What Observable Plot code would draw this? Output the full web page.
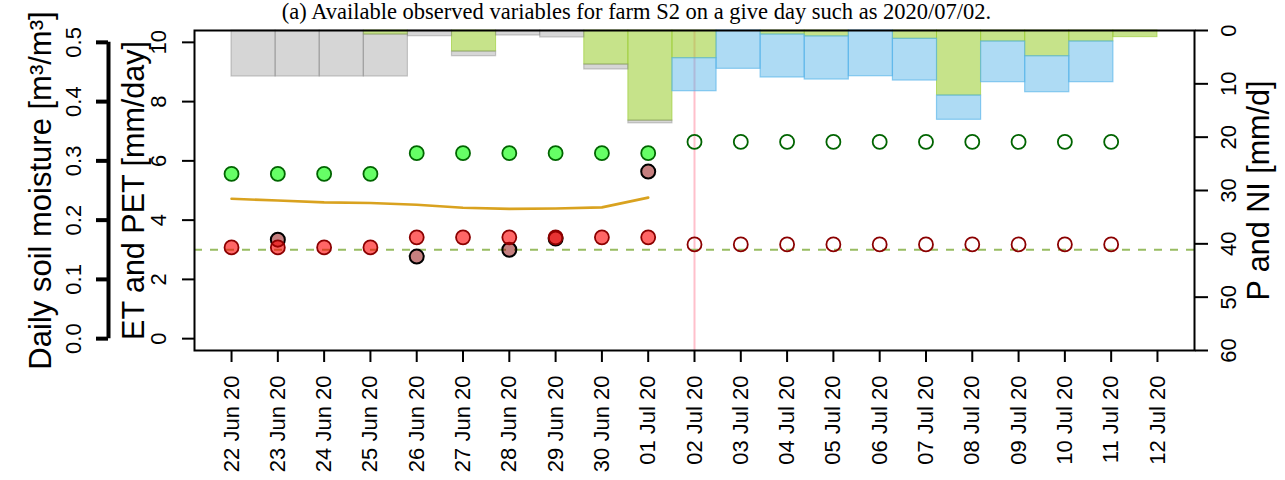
<!DOCTYPE html>
<html><head><meta charset="utf-8">
<script src="https://cdn.jsdelivr.net/npm/d3@7"></script>
<script src="https://cdn.jsdelivr.net/npm/@observablehq/plot@0.6"></script>
<style>body{margin:0;background:#fff;}</style>
</head><body><div id="chart"></div>
<script>
// ---- data ----
const dates = ["2020-06-22","2020-06-23","2020-06-24","2020-06-25","2020-06-26","2020-06-27","2020-06-28",
  "2020-06-29","2020-06-30","2020-07-01","2020-07-02","2020-07-03","2020-07-04","2020-07-05","2020-07-06",
  "2020-07-07","2020-07-08","2020-07-09","2020-07-10","2020-07-11","2020-07-12"];
const todayIndex = 10;
// soil moisture (m3/m3)
const smUpperObs = [0.278,0.278,0.278,0.278,0.313,0.313,0.313,0.313,0.313,0.313];      // days 0-9 (green filled)
const smLowerObs = [0.154,0.154,0.154,0.154,0.171,0.171,0.171,0.171,0.171,0.171];      // days 0-9 (red filled)
const smUpperFc  = [0.332,0.332,0.332,0.332,0.332,0.332,0.332,0.332,0.332,0.332];      // days 10-19 (green open)
const smLowerFc  = [0.159,0.159,0.159,0.159,0.159,0.159,0.159,0.159,0.159,0.159];      // days 10-19 (red open)
const smMeasuredDay = [1, 4, 6, 7, 9];
const smMeasured    = [0.167, 0.1385, 0.150, 0.169, 0.282];
const smThreshold = 0.15;
// ET / PET (mm/day), days 0-9
const pet = [4.72,4.66,4.60,4.58,4.52,4.42,4.38,4.39,4.43,4.76];
// P and NI (mm/d), stacked from the top: NI (green), observed (grey), P (blue)
const niBar   = [0,0,0,0.75,0,3.94,0,0,6.38,16.9,5.19,0,0.75,1.1,0,1.56,12.19,2.06,4.82,2.06,1.25];
const greyBar = [8.63,8.63,8.63,7.88,1.07,0.88,0.94,1.31,0.93,0.5,0,0,0,0,0,0,0,0,0,0,0];
const pBar    = [0,0,0,0,0,0,0,0,0,0,6.19,7.18,8.06,8.09,8.57,7.82,4.55,7.63,6.75,7.63,0];
const etTicks = [0,2,4,6,8,10];
const smTicks = [0,0.1,0.2,0.3,0.4,0.5];
const pTicks  = [0,10,20,30,40,50,60];

// ---- scales helpers ----
const DAY = 864e5;
const D = dates.map(s => new Date(s));
const yDomain = [-0.4, 10.4];
const smToY = s => s * 20;                 // SM axis is ET axis / 20
const yToSm = y => y / 20;
const pSpan = (yDomain[1] - yDomain[0]) / 60;  // right axis 0..60 covers the whole frame, reversed
const pToY = p => yDomain[1] - p * pSpan;
const yToP = y => (yDomain[1] - y) / pSpan;
const nb = dates.length;
const barEdge = k => new Date(D[0].getTime() + k * ((nb - 1) / nb) * DAY);

const rects = [];
for (let k = 0; k < nb; k++) {
  let c = 0;
  [["ni", niBar[k]], ["grey", greyBar[k]], ["p", pBar[k]]].forEach(([s, v]) => {
    if (v > 0) { rects.push({s, x1: barEdge(k), x2: barEdge(k + 1), y1: pToY(c), y2: pToY(c + v)}); c += v; }
  });
}
const upperObs = smUpperObs.map((v, i) => ({x: D[i], y: smToY(v)}));
const lowerObs = smLowerObs.map((v, i) => ({x: D[i], y: smToY(v)}));
const upperFc = smUpperFc.map((v, i) => ({x: D[todayIndex + i], y: smToY(v)}));
const lowerFc = smLowerFc.map((v, i) => ({x: D[todayIndex + i], y: smToY(v)}));
const measured = smMeasured.map((v, i) => ({x: D[smMeasuredDay[i]], y: smToY(v)}));
const petData = pet.map((v, i) => ({x: D[i], y: v}));

const plot = Plot.plot({
  width: 1285, height: 480,
  marginLeft: 194, marginRight: 91, marginTop: 30, marginBottom: 130,
  style: {fontFamily: "Liberation Sans, Arial, Helvetica, sans-serif", fontSize: "22px", background: "#fff"},
  x: {type: "utc", domain: [new Date(D[0].getTime() - 0.8 * DAY), new Date(D[nb - 1].getTime() + 0.8 * DAY)]},
  y: {domain: yDomain},
  marks: [
    Plot.ruleX([D[todayIndex]], {stroke: "pink", strokeWidth: 2}),
    Plot.rect(rects.filter(d => d.s === "ni"), {x1: "x1", x2: "x2", y1: "y1", y2: "y2", fill: "#9acd32", fillOpacity: 0.57, stroke: "#9acd32", strokeOpacity: 0.65, strokeWidth: 1}),
    Plot.rect(rects.filter(d => d.s === "grey"), {x1: "x1", x2: "x2", y1: "y1", y2: "y2", fill: "#808080", fillOpacity: 0.32, stroke: "#808080", strokeOpacity: 0.4, strokeWidth: 1.2}),
    Plot.rect(rects.filter(d => d.s === "p"), {x1: "x1", x2: "x2", y1: "y1", y2: "y2", fill: "#56b4e9", fillOpacity: 0.48, stroke: "#56b4e9", strokeOpacity: 0.65, strokeWidth: 1.2}),
    Plot.ruleY([smToY(smThreshold)], {stroke: "#98bc62", strokeWidth: 1.8, strokeDasharray: "8,8"}),
    Plot.line(petData, {x: "x", y: "y", stroke: "#d9a21f", strokeWidth: 2.6}),
    Plot.dot(measured, {x: "x", y: "y", r: 7, fill: "darkred", fillOpacity: 0.5, stroke: "black", strokeWidth: 2}),
    Plot.dot(lowerObs, {x: "x", y: "y", r: 7, fill: "red", fillOpacity: 0.6, stroke: "darkred", strokeWidth: 1.8}),
    Plot.dot(upperObs, {x: "x", y: "y", r: 7, fill: "lime", fillOpacity: 0.6, stroke: "darkgreen", strokeWidth: 1.8}),
    Plot.dot(lowerFc, {x: "x", y: "y", r: 7, fill: "none", stroke: "darkred", strokeWidth: 1.8}),
    Plot.dot(upperFc, {x: "x", y: "y", r: 7, fill: "none", stroke: "darkgreen", strokeWidth: 1.8}),
    Plot.frame({stroke: "black", strokeWidth: 2}),
    Plot.axisX({ticks: D, tickFormat: d3.utcFormat("%d %b %y"), tickSize: 12, tickPadding: 13, tickRotate: -90,
      textAnchor: "end", lineAnchor: "middle", strokeWidth: 2, label: null}),
    Plot.axisY({ticks: etTicks, tickFormat: d => String(d), anchor: "left", tickSize: 12, tickPadding: 17, tickRotate: -90,
      textAnchor: "middle", lineAnchor: "bottom", strokeWidth: 2, label: null}),
    Plot.axisY({ticks: smTicks.map(smToY), tickFormat: y => yToSm(y).toFixed(1), anchor: "left", dx: -86, tickSize: 12, tickPadding: 16, tickRotate: -90,
      textAnchor: "middle", lineAnchor: "bottom", strokeWidth: 4, label: null}),
    Plot.ruleX([D[0].getTime() - 0.8 * DAY], {x: d => new Date(d), y1: smToY(0), y2: smToY(0.5), dx: -86, stroke: "black", strokeWidth: 4}),
    Plot.axisY({ticks: pTicks.map(pToY), tickFormat: y => String(Math.round(yToP(y))), anchor: "right", tickSize: 13, tickPadding: 13, tickRotate: -90,
      textAnchor: "middle", lineAnchor: "top", strokeWidth: 2, label: null}),
    Plot.text(["Daily soil moisture [m³/m³]"], {text: d => d, frameAnchor: "left", rotate: -90, dx: -144, textAnchor: "middle", lineAnchor: "bottom", fontSize: 31}),
    Plot.text(["ET and PET [mm/day]"], {text: d => d, frameAnchor: "left", rotate: -90, dx: -51, textAnchor: "middle", lineAnchor: "bottom", fontSize: 30.5}),
    Plot.text(["P and NI [mm/d]"], {text: d => d, frameAnchor: "right", rotate: -90, dx: 53, textAnchor: "middle", lineAnchor: "top", fontSize: 30.5}),
    Plot.text(["(a) Available observed variables for farm S2 on a give day such as 2020/07/02."], {text: d => d, frameAnchor: "top", dx: -58, dy: -12, lineAnchor: "bottom", fontFamily: "Liberation Serif, Times New Roman, serif", fontSize: 22.5})
  ]
});
document.getElementById("chart").appendChild(plot);
</script>
</body></html>
